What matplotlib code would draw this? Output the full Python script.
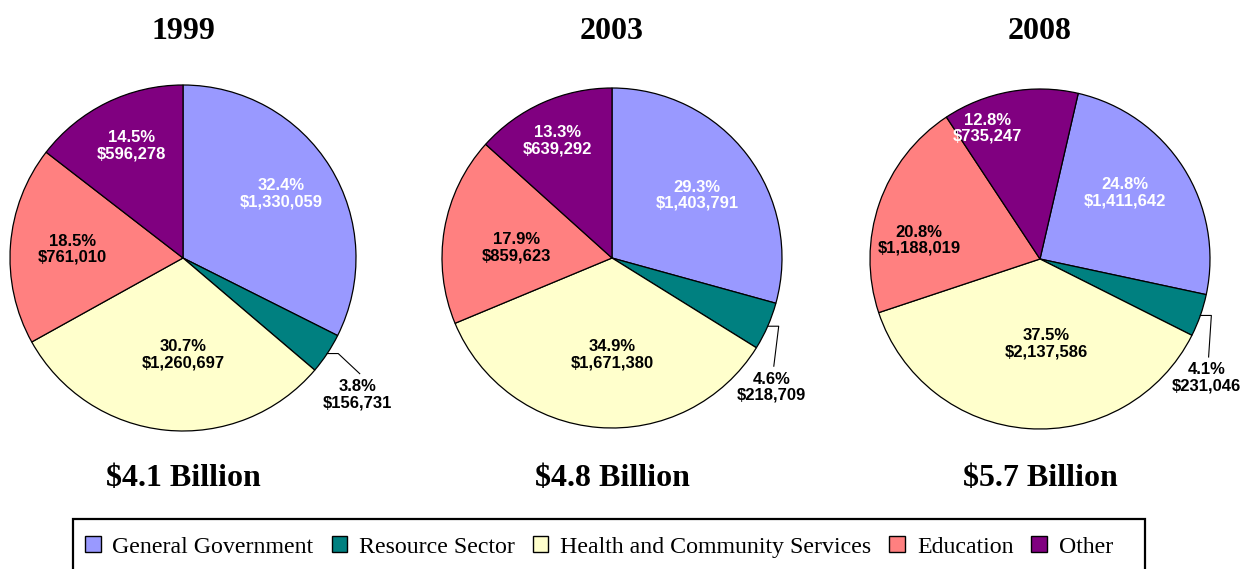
import numpy as np
import matplotlib.pyplot as plt
from matplotlib.patches import Patch, Rectangle

# Spending by sector, thousands of dollars
YEARS = ['1999', '2003', '2008']
SECTORS = ['General Government', 'Resource Sector', 'Health and Community Services',
           'Education', 'Other']
AMOUNTS = [
    [1330059, 156731, 1260697, 761010, 596278],
    [1403791, 218709, 1671380, 859623, 639292],
    [1411642, 231046, 2137586, 1188019, 735247],
]
SHARES = [
    [32.4, 3.8, 30.7, 18.5, 14.5],
    [29.3, 4.6, 34.9, 17.9, 13.3],
    [24.8, 4.1, 37.5, 20.8, 12.8],
]

COLORS = ['#9999FF', '#008080', '#FFFFCC', '#FF8080', '#800080']
TEXT_COLORS = ['white', 'black', 'black', 'black', 'white']

W, H = 1241, 569
SERIF = ['Liberation Serif', 'DejaVu Serif']
SANS = ['Liberation Sans', 'DejaVu Sans']

# layout, in pixels (y measured from top)
CENTERS = [(183, 258), (612, 258), (1040, 259)]
RADII = [173, 170, 170]
START_ANGLES = [90, 90, 77]
# label centres relative to pie centre, in units of radius (y down)
LABEL_OFFSETS = [
    [(0.57, -0.37), (1.01, 0.79), (0.0, 0.56), (-0.64, -0.05), (-0.30, -0.65)],
    [(0.50, -0.37), (0.94, 0.76), (0.0, 0.57), (-0.56, -0.06), (-0.32, -0.69)],
    [(0.50, -0.39), (0.98, 0.70), (0.035, 0.50), (-0.71, -0.11), (-0.31, -0.77)],
]


def flip(y):
    return H - y


fig = plt.figure(figsize=(W / 100, H / 100), dpi=100)
ax = fig.add_axes([0, 0, 1, 1])

for i, year in enumerate(YEARS):
    cx, cy = CENTERS[i]
    r = RADII[i]
    wedges, _ = ax.pie(AMOUNTS[i], colors=COLORS, startangle=START_ANGLES[i],
                       counterclock=False, radius=r, center=(cx, flip(cy)),
                       wedgeprops=dict(edgecolor='black', linewidth=0.9))

    for j, w in enumerate(wedges):
        dx, dy = LABEL_OFFSETS[i][j]
        tx, ty = cx + dx * r, cy + dy * r
        txt = f"{SHARES[i][j]:.1f}%\n${AMOUNTS[i][j]:,}"
        ax.text(tx, flip(ty), txt, ha='center', va='center', fontsize=12,
                fontweight='bold', family=SANS, color=TEXT_COLORS[j],
                linespacing=1.1)

    # leader line for the small resource sector slice
    w = wedges[1]
    mid = np.deg2rad((w.theta1 + w.theta2) / 2)
    sx = cx + r * np.cos(mid)
    sy = flip(cy) + r * np.sin(mid)
    dx, dy = LABEL_OFFSETS[i][1]
    ex, ey = cx + dx * r + 2, flip(cy + dy * r - 21)
    ax.plot([sx, sx + 11, ex], [sy, sy, ey], color='black', linewidth=0.8)

    ax.text(cx, flip(31), year, ha='center', va='center', fontsize=23,
            fontweight='bold', family=SERIF)
    total = sum(AMOUNTS[i]) / 1e6
    ax.text(cx, flip(478), f"${total:.1f} Billion", ha='center', va='center',
            fontsize=23, fontweight='bold', family=SERIF)

# legend box runs off the bottom edge
ax.add_patch(Rectangle((73, flip(600)), 1145 - 73, 600 - 519, fill=False,
                       edgecolor='black', linewidth=1.6))
handles = [Patch(facecolor=c, edgecolor='black', linewidth=1.0) for c in COLORS]
ax.legend(handles, SECTORS, loc='center', bbox_to_anchor=(599, flip(547)),
          bbox_transform=ax.transData, ncol=5, frameon=False,
          prop=dict(family=SERIF, size=17.2), handlelength=0.65, handleheight=0.65,
          handletextpad=0.5, columnspacing=0.75, borderpad=0)

ax.set_xlim(0, W)
ax.set_ylim(0, H)
ax.set_aspect('auto')
ax.axis('off')

fig.savefig('out.png', dpi=100)
